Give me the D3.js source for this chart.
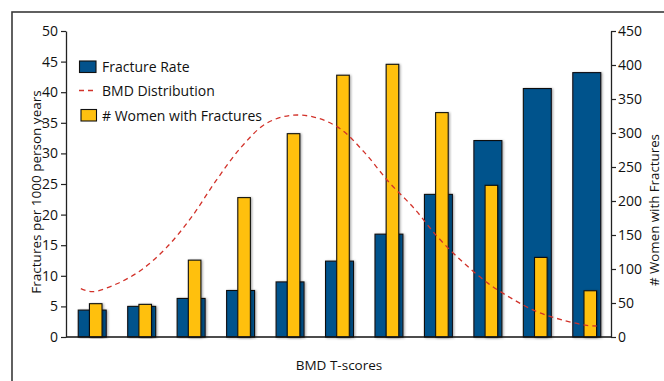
<!DOCTYPE html>
<html><head><meta charset="utf-8">
<script src="https://cdn.jsdelivr.net/npm/d3@7"></script>
<style>
html,body{margin:0;padding:0;background:#fff;}
svg{display:block;font-family:"Open Sans","Noto Sans",sans-serif;}
</style></head>
<body>
<svg id="chart" width="664" height="381"></svg>
<script>
// ---- data ----
const categories = ["1","2","3","4","5","6","7","8","9","10","11"];
const fractureRate = [4.4, 5.0, 6.3, 7.6, 9.0, 12.4, 16.8, 23.3, 32.1, 40.6, 43.2];
const womenWithFractures = [49, 48, 113, 205, 299, 385, 401, 330, 223, 117, 68];
// BMD distribution curve (left-axis units) at fractional category positions
const bmdPos = [-0.23, 0, 0.5, 1, 1.5, 2, 2.5, 3, 3.5, 4, 4.5, 5, 5.5, 6, 6.5, 7, 7.5, 8, 8.5, 9, 9.5, 10, 10.2];
const bmdVal = [7.9, 7.4, 8.7, 11.0, 14.6, 19.5, 25.5, 30.9, 34.8, 36.2, 35.9, 34.1, 30.2, 25.3, 21.1, 16.2, 12.2, 8.8, 6.2, 4.1, 2.8, 1.9, 1.8];
const leftTicks = [0,5,10,15,20,25,30,35,40,45,50];
const rightTicks = [0,50,100,150,200,250,300,350,400,450];
const legendLabels = ["Fracture Rate","BMD Distribution","# Women with Fractures"];

const BLUE = "#03528c", YELLOW = "#ffc010", RED = "#d2322a";

const svg = d3.select("#chart");
const defs = svg.append("defs");
const f = defs.append("filter").attr("id","sh").attr("x","-20%").attr("y","-5%").attr("width","150%").attr("height","110%");
f.append("feDropShadow").attr("dx",1.2).attr("dy",0.5).attr("stdDeviation",0.8).attr("flood-color","#000").attr("flood-opacity",0.35);

// frame
svg.append("rect").attr("x",12).attr("y",12).attr("width",700).attr("height",400)
  .attr("fill","none").attr("stroke","#3a3a3a").attr("stroke-width",1.6);

const x = d3.scaleBand().domain(categories).range([67.5, 611.5]).paddingInner(0.435).paddingOuter(0.2175);
const yL = d3.scaleLinear().domain([0,50]).range([337,31]);
const yR = d3.scaleLinear().domain([0,450]).range([337,31]);
const bw = x.bandwidth();
const xIdx = d3.scaleLinear().domain([0, categories.length-1])
  .range([x(categories[0]) + bw/2, x(categories[categories.length-1]) + bw/2]);

// blue bars
svg.append("g").selectAll("rect").data(fractureRate).join("rect")
  .attr("x",(d,i)=>x(categories[i]))
  .attr("y",d=>yL(d)).attr("width",bw).attr("height",d=>yL(0)-yL(d))
  .attr("fill",BLUE).attr("stroke","#111").attr("stroke-width",1.1).attr("filter","url(#sh)");

// yellow bars
const yw = bw*0.45, yoff = bw/2 - yw/2 + 3.5;
svg.append("g").selectAll("rect").data(womenWithFractures).join("rect")
  .attr("x",(d,i)=>x(categories[i]) + yoff)
  .attr("y",d=>yR(d)).attr("width",yw).attr("height",d=>yR(0)-yR(d))
  .attr("fill",YELLOW).attr("stroke","#111").attr("stroke-width",1.1).attr("filter","url(#sh)");

// BMD curve
const line = d3.line().x((d,i)=>xIdx(bmdPos[i])).y(d=>yL(d)).curve(d3.curveCatmullRom.alpha(0.5));
svg.append("path").datum(bmdVal).attr("d",line).attr("fill","none")
  .attr("stroke",RED).attr("stroke-width",1.3).attr("stroke-dasharray","5,4");

// baseline
svg.append("line").attr("x1",66).attr("x2",611).attr("y1",yL(0)).attr("y2",yL(0))
  .attr("stroke","#111").attr("stroke-width",1.3);

// axes
const gl = svg.append("g").attr("transform","translate(66,0)")
  .call(d3.axisLeft(yL).tickValues(leftTicks).tickSize(5).tickPadding(3).tickSizeOuter(0));
const gr = svg.append("g").attr("transform","translate(611,0)")
  .call(d3.axisRight(yR).tickValues(rightTicks).tickSize(5).tickPadding(2).tickSizeOuter(0));
[gl,gr].forEach(g=>{
  g.select(".domain").attr("stroke","#222").attr("stroke-width",1.3);
  g.selectAll(".tick line").attr("stroke","#222").attr("stroke-width",1.2);
  g.selectAll(".tick text").attr("fill","#111").style("font-size","14px").style("font-family",'"Open Sans",sans-serif');
});

// axis titles
svg.append("text").attr("transform","translate(41,192) rotate(-90)").attr("text-anchor","middle")
  .style("font-size","13.5px").attr("fill","#111").text("Fractures per 1000 person years");
svg.append("text").attr("transform","translate(659,210) rotate(-90)").attr("text-anchor","middle")
  .style("font-size","13.3px").attr("fill","#111").text("# Women with Fractures");
svg.append("text").attr("x",339).attr("y",370).attr("text-anchor","middle")
  .style("font-size","13.5px").attr("fill","#111").text("BMD T-scores");

// legend
const lg = svg.append("g");
lg.append("rect").attr("x",79.5).attr("y",61).attr("width",16.5).attr("height",11.5)
  .attr("fill",BLUE).attr("stroke","#111").attr("stroke-width",1.1);
lg.append("line").attr("x1",79).attr("x2",97).attr("y1",90.5).attr("y2",90.5)
  .attr("stroke",RED).attr("stroke-width",1.3).attr("stroke-dasharray","5,4");
lg.append("rect").attr("x",81).attr("y",109.5).attr("width",15.5).attr("height",11.5)
  .attr("fill",YELLOW).attr("stroke","#111").attr("stroke-width",1.1);
const ly = [72, 96, 121];
legendLabels.forEach((t,i)=>{
  lg.append("text").attr("x",102).attr("y",ly[i]).style("font-size","14px").attr("fill","#111").text(t);
});
</script>
</body></html>
